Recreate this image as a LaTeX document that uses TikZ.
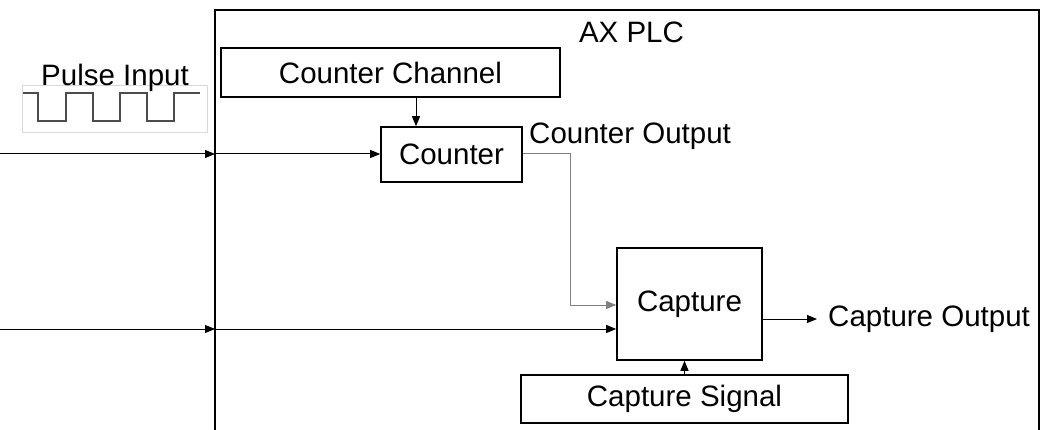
\documentclass[tikz,border=0pt]{standalone}
\usepackage{fontspec}
\setmainfont{Liberation Sans}
\usetikzlibrary{arrows.meta}
\begin{document}
\begin{tikzpicture}[x=1pt,y=-1pt,
  lbl/.style={font=\fontsize{29.5}{35}\selectfont, inner sep=0pt},
  blk/.style={lbl, draw, line width=1.6pt, rectangle},
  conn/.style={line width=1pt, -{Triangle[length=10pt,width=8pt]}},
  wave/.style={line width=1.6pt, draw=black!70}
]
\useasboundingbox (0,0) rectangle (1040,430);
% PLC enclosure (open at the bottom)
\draw[line width=1.6pt] (215,430) -- (215,10) -- (1039,10) -- (1039,430);
\node[lbl, anchor=base] (plc) at (631.5,43) {AX PLC};

% blocks
\node[blk, minimum width=339pt, minimum height=49pt] (cc) at (390.5,72.5) {Counter Channel};
\node[blk, minimum width=141pt, minimum height=55pt] (counter) at (451.5,154.5) {Counter};
\node[blk, minimum width=145pt, minimum height=112pt] (capture) at (689.5,304) {Capture};
\node[blk, minimum width=327pt, minimum height=48pt] (capsig) at (684.5,399) {Capture Signal};

% labels
\node[lbl, anchor=base west] (cntout) at (529,144) {Counter Output};
\node[lbl, anchor=west, inner xsep=11pt] (capout) at (817,319) {Capture Output};

% pulse input
\node[draw=black!15, line width=0.8pt, minimum width=185pt, minimum height=47pt, inner sep=0pt] (pbox) at (114.5,108.5) {};
\node[lbl, anchor=base] (plabel) at (115,86) {Pulse Input};
\draw[wave] (23,93) -- (38,93) -- (38,121) -- (66,121) -- (66,93) -- (93,93) -- (93,121)
  -- (120,121) -- (120,93) -- (147,93) -- (147,121) -- (174,121) -- (174,93) -- (200,93);

% connectors
\coordinate (in1) at (0,154);
\coordinate (edge1) at (215,154);
\coordinate (in2) at (0,329);
\coordinate (edge2) at (215,329);
\draw[conn] (in1) -- (edge1);
\draw[conn] (edge1) -- (edge1 -| counter.west);
\draw[conn] (in2) -- (edge2);
\draw[conn] (edge2) -- (edge2 -| capture.west);
\draw[conn] ([xshift=25.5pt]cc.south) -- ([xshift=-35.5pt]counter.north);
\draw[conn, draw=black!50] (counter.east |- edge1) -- ++(48,0) |- ([yshift=-1pt]capture.west);
\draw[conn] (capsig.north) -- (capsig.north |- capture.south);
\draw[conn] (capout.west -| capture.east) -- (capout.west);
\end{tikzpicture}
\end{document}
